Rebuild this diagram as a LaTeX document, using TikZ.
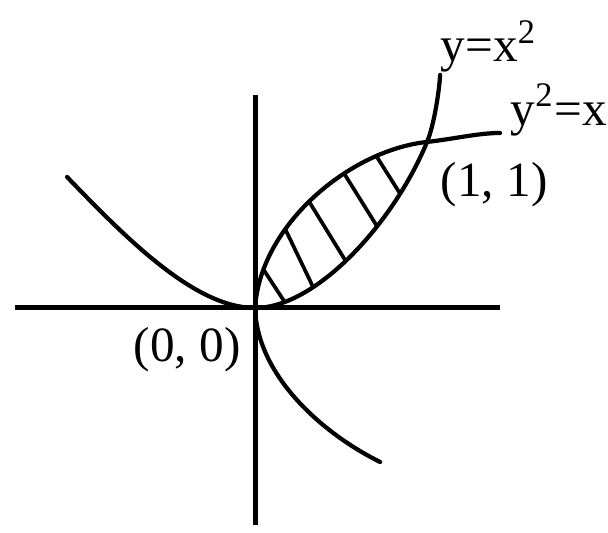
\documentclass[tikz,border=0pt]{standalone}
\usepackage{fontspec}
\setmainfont{Liberation Serif}
\usetikzlibrary{calc}

\begin{document}
\begin{tikzpicture}[
    x=1.72cm, y=1.66cm,
    axis/.style={draw=black, line width=1.4pt},
    curve/.style={draw=black, line width=1.2pt, line cap=round},
    hatch/.style={draw=black, line width=1.05pt},
    lbl/.style={font=\fontsize{14}{16}\selectfont, inner sep=0pt, anchor=base west},
  ]

  \useasboundingbox (-1.483,-1.355) rectangle (2.052,1.855);

  % ---- axes
  \coordinate (xleft) at (-1.395,0);
  \coordinate (xright) at (1.424,0);
  \coordinate (ytop) at (0,1.283);
  \coordinate (ybot) at (0,-1.307);
  \draw[axis] (xleft) -- (xright);
  \draw[axis] (ytop) -- (ybot);

  % ---- hatching of the enclosed region
  \coordinate (o) at (0,0);
  \coordinate (p) at (1,1);
  \begin{scope}
    \clip (o) .. controls (0.03,0.5) and (0.55,0.95) .. (p)
      .. controls (0.8,0.5) and (0.35,0) .. (o) -- cycle;
    \foreach \xa/\ya/\xb/\yb in {0.058/0.217/0.157/0.060, 0.186/0.452/0.337/0.127,
        0.337/0.602/0.523/0.289, 0.552/0.753/0.715/0.482, 0.738/0.861/0.855/0.669} {
      \draw[hatch] ($(\xa,\ya)!-0.4!(\xb,\yb)$) -- ($(\xb,\yb)!-0.4!(\xa,\ya)$);
    }
  \end{scope}

  % ---- y = x^2
  \draw[curve] (-1.093,0.789) .. controls (-0.75,0.42) and (-0.35,0) .. (o)
    .. controls (0.35,0) and (0.8,0.5) .. (p)
    .. controls (1.04,1.1) and (1.07,1.3) .. (1.076,1.404);

  % ---- y^2 = x
  \draw[curve] (0.727,-0.928) .. controls (0.38,-0.75) and (0.01,-0.4) .. (o)
    .. controls (0.03,0.5) and (0.55,0.95) .. (p)
    .. controls (1.15,1.017) and (1.3,1.054) .. (1.424,1.054);

  % ---- labels
  \node[lbl] (parab) at (1.076,1.482) {y=x\textsuperscript{2}};
  \node[lbl] (root) at (1.483,1.102) {y\textsuperscript{2}=x};
  \node[lbl] (pone) at (1.076,0.669) {(1, 1)};
  \node[lbl] (pzero) at (-0.709,-0.325) {(0, 0)};

\end{tikzpicture}
\end{document}
